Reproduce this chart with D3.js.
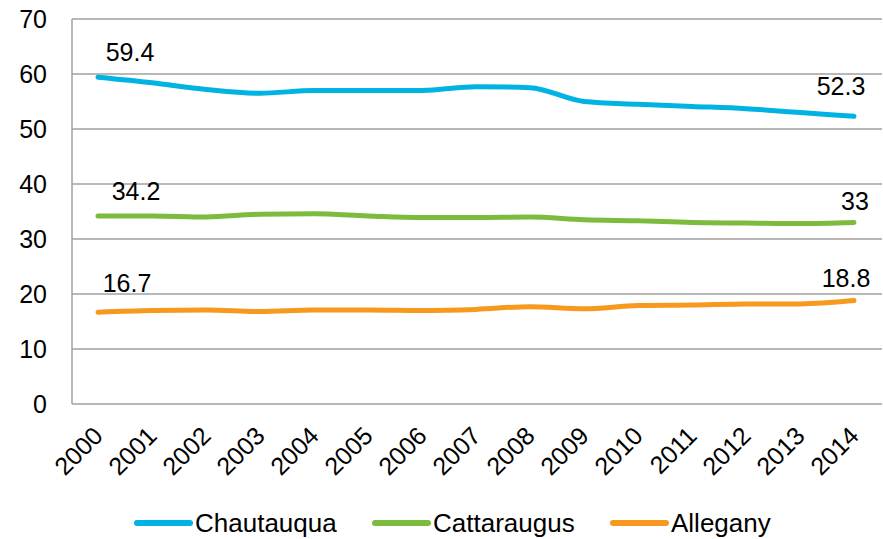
<!DOCTYPE html>
<html><head><meta charset="utf-8">
<script src="https://cdn.jsdelivr.net/npm/d3@7"></script>
<style>body{margin:0;background:#fff}svg{display:block;font-family:"Liberation Sans",Arial,sans-serif}</style>
</head><body><svg id="c" width="883" height="539"></svg>
<script>
const years = ["2000","2001","2002","2003","2004","2005","2006","2007","2008","2009","2010","2011","2012","2013","2014"];
const chautauqua = [59.4,58.4,57.2,56.5,57.0,57.0,57.0,57.7,57.5,55.0,54.5,54.1,53.7,53.0,52.3];
const cattaraugus = [34.2,34.2,34.0,34.5,34.6,34.2,33.9,33.9,34.0,33.5,33.3,33.0,32.9,32.8,33.0];
const allegany = [16.7,17.0,17.1,16.8,17.1,17.1,17.0,17.2,17.7,17.3,17.9,18.0,18.2,18.2,18.8];
const yTicks = [0,10,20,30,40,50,60,70];
const seriesNames = ["Chautauqua","Cattaraugus","Allegany"];
const seriesColors = ["#00b3e3","#7cbb3d","#f7991e"];

const series = [chautauqua, cattaraugus, allegany].map((v,i)=>({name:seriesNames[i], color:seriesColors[i], values:v}));

const svg = d3.select("#c");
const L = 72, R = 882, T = 19, B = 404;
const x = d3.scaleBand().domain(years).range([L, R]);
const y = d3.scaleLinear().domain([0,70]).range([B, T]);
const cx = d => x(d) + x.bandwidth()/2 - 1;

// gridlines
svg.append("g").selectAll("line").data(yTicks).join("line")
  .attr("x1", L).attr("x2", R).attr("y1", d=>y(d)).attr("y2", d=>y(d))
  .attr("stroke", "#a0a0a0").attr("stroke-width", 1.5);
// left axis line
svg.append("line").attr("x1", L).attr("x2", L).attr("y1", T).attr("y2", B)
  .attr("stroke", "#a0a0a0").attr("stroke-width", 1.5);

// y tick labels
svg.append("g").selectAll("text").data(yTicks).join("text")
  .attr("x", 47).attr("y", d=>y(d)).attr("dy", "0.35em")
  .attr("text-anchor", "end").attr("font-size", 25).attr("fill", "#000")
  .text(d=>d);

// x tick labels
svg.append("g").selectAll("text").data(years).join("text")
  .attr("transform", d=>`translate(${cx(d)-6},${425}) rotate(-45)`)
  .attr("text-anchor", "end").attr("dy", "0.7em")
  .attr("font-size", 25).attr("fill", "#000")
  .text(d=>d);

// lines
const line = d3.line().x((d,i)=>cx(years[i])).y(d=>y(d)).curve(d3.curveMonotoneX);
svg.append("g").selectAll("path").data(series).join("path")
  .attr("d", d=>line(d.values)).attr("fill","none")
  .attr("stroke", d=>d.color).attr("stroke-width", 5)
  .attr("stroke-linecap","round").attr("stroke-linejoin","round");

// data labels (first and last)
const labelOffsets = [
  {first:[32,-16], last:[-13,-21]},
  {first:[38,-16], last:[1,-13]},
  {first:[29,-20], last:[-8,-14]}
];
series.forEach((s,i)=>{
  const n = s.values.length-1;
  [[0, labelOffsets[i].first],[n, labelOffsets[i].last]].forEach(([k,off])=>{
    svg.append("text")
      .attr("x", cx(years[k]) + off[0]).attr("y", y(s.values[k]) + off[1])
      .attr("text-anchor","middle").attr("font-size",25).attr("fill","#000")
      .text(s.values[k]);
  });
});

// legend
const legX = [137, 375, 613];
const lg = svg.append("g").selectAll("g").data(series).join("g")
  .attr("transform", (d,i)=>`translate(${legX[i]},523)`);
lg.append("line").attr("x1",0).attr("x2",53).attr("y1",0).attr("y2",0)
  .attr("stroke", d=>d.color).attr("stroke-width",6).attr("stroke-linecap","round");
lg.append("text").attr("x",58).attr("y",9).attr("font-size",26).attr("fill","#000")
  .text(d=>d.name);
</script>
</body></html>
